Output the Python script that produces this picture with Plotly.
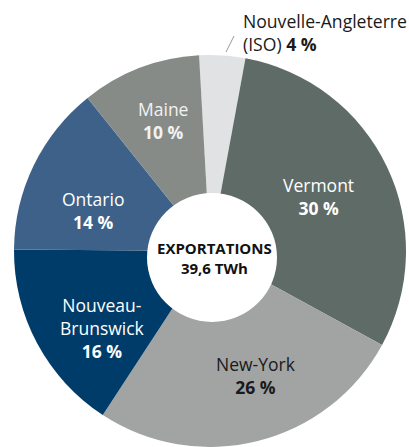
import math
import plotly.graph_objects as go

# ---- data ----
regions = ["Nouvelle-Angleterre (ISO)", "Vermont", "New-York", "Nouveau-Brunswick", "Ontario", "Maine"]
twh = [1.5, 11.9, 10.4, 6.3, 5.6, 3.9]
label_lines = [["Nouvelle-Angleterre", "(ISO)"], ["Vermont"], ["New-York"], ["Nouveau-", "Brunswick"], ["Ontario"], ["Maine"]]
center_title = "EXPORTATIONS"
total_label = "39,6 TWh"

colors = ["#e1e2e3", "#5f6b67", "#a1a4a3", "#003c69", "#3e6189", "#868b88"]
text_colors = [None, "#ffffff", "#1a1a1a", "#ffffff", "#ffffff", "#f2f2f2"]

W, H = 409, 447
CX, CY, R = 210, 251, 196
ROT = -3.2
FONT = "Open Sans"
FS = 17.5

def px(x):
    return x / W

def py(y):
    return 1 - y / H

total = sum(twh)
pct = [f"{round(v / total * 100)} %" for v in twh]

fig = go.Figure(go.Pie(
    labels=regions, values=twh, sort=False, direction="clockwise", rotation=ROT,
    hole=0, textinfo="none", hoverinfo="label+percent",
    marker=dict(colors=colors, line=dict(width=0)),
    domain=dict(x=[px(CX - R), px(CX + R)], y=[py(CY + R), py(CY - R)]),
    showlegend=False,
))

# label placement tweaks (radius in px, angle offset in deg) per slice
tweaks = [None, (122, -1.3), (133, -6.0), (132, -7.5), (124, -6.6), (139, 1.0)]

annotations = []
cum = 0.0
for i, v in enumerate(twh):
    mid = ROT + 360 * (cum + v / 2) / total
    cum += v
    if tweaks[i] is None:
        continue
    r, off = tweaks[i]
    a = math.radians(mid + off)
    lx = CX + r * math.sin(a)
    ly = CY - r * math.cos(a)
    text = "<br>".join(label_lines[i] + [f"<b>{pct[i]}</b>"])
    annotations.append(dict(x=px(lx), y=py(ly), xref="paper", yref="paper", text=text,
                            showarrow=False, xanchor="center", yanchor="middle", align="center",
                            font=dict(family=FONT, size=FS, color=text_colors[i])))

# outside label for the small slice
annotations.append(dict(x=px(241), y=py(32.5), xref="paper", yref="paper",
                        text=f"{label_lines[0][0]}<br>{label_lines[0][1]} <b>{pct[0]}</b>",
                        showarrow=False, xanchor="left", yanchor="middle", align="left",
                        font=dict(family=FONT, size=17.6, color="#1a1a1a")))

# centre text
annotations.append(dict(x=px(214), y=py(257.5), xref="paper", yref="paper",
                        text=f"<b>{center_title}</b><br><b>{total_label}</b>",
                        showarrow=False, xanchor="center", yanchor="middle", align="center",
                        font=dict(family=FONT, size=15, color="#111111")))

shapes = [
    dict(type="circle", xref="paper", yref="paper", x0=px(147), x1=px(277), y0=py(322), y1=py(193),
         fillcolor="#ffffff", line=dict(width=0), layer="above"),
    dict(type="line", xref="paper", yref="paper", x0=px(226), y0=py(52), x1=px(234), y1=py(36),
         line=dict(color="#9a9a9a", width=1)),
]

fig.update_layout(width=W, height=H, margin=dict(l=0, r=0, t=0, b=0),
                  paper_bgcolor="#ffffff", plot_bgcolor="#ffffff",
                  annotations=annotations, shapes=shapes,
                  font=dict(family=FONT))

fig.write_html("out.html", config={"displayModeBar": False},
               post_script="document.body.style.margin='0';document.body.style.overflow='hidden';")
